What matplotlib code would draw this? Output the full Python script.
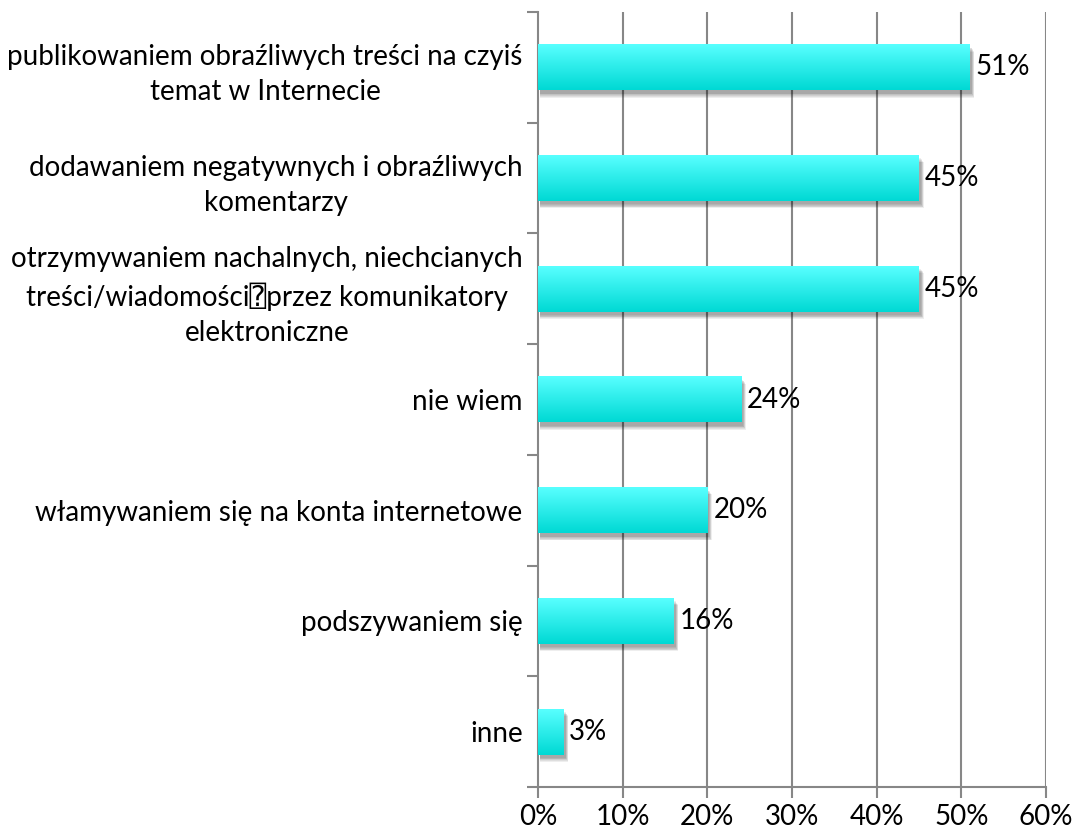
import numpy as np
import matplotlib.pyplot as plt
from matplotlib.patches import Rectangle
from matplotlib.ticker import FixedLocator, PercentFormatter

plt.rcParams['font.family'] = ['Lato', 'DejaVu Sans Mono', 'DejaVu Sans']

categories = [
    'publikowaniem obraźliwych treści na czyiś\ntemat w Internecie',
    'dodawaniem negatywnych i obraźliwych\nkomentarzy',
    'otrzymywaniem nachalnych, niechcianych\ntreści/wiadomości\u2370przez komunikatory\nelektroniczne',
    'nie wiem',
    'włamywaniem się na konta internetowe',
    'podszywaniem się',
    'inne',
]
values = [51, 45, 45, 24, 20, 16, 3]
xticks = [0, 10, 20, 30, 40, 50, 60]

grid_col = '#878787'
top_col = np.array([0x58, 0xff, 0xff]) / 255
bot_col = np.array([0x00, 0xd9, 0xd4]) / 255
fs = 20

fig = plt.figure(figsize=(10.72, 8.36), dpi=100)
ax = fig.add_axes([538 / 1072, 49 / 836, 508 / 1072, 775 / 836])

n = len(categories)
ypos = np.arange(n)[::-1]
h = 0.415

# vertical gradient used for every bar
t = np.linspace(0, 1, 64)[:, None]
grad = bot_col[None, None, :] * (1 - t[..., None]) + top_col[None, None, :] * t[..., None]

for y, v in zip(ypos, values):
    # soft shadow below / right of the bar
    for k in range(6):
        dx = 0.25 + k * 0.06
        dy = 0.03 + k * 0.007
        ax.add_patch(Rectangle((0.2, y - h / 2 - dy), v - 0.2 + dx, h,
                               color='black', alpha=0.065, lw=0, zorder=2))
    ax.imshow(grad, extent=[0, v, y - h / 2, y + h / 2], origin='lower',
              aspect='auto', interpolation='bilinear', zorder=3)
    ax.text(v + 0.7, y, f'{v}%', va='center', ha='left', fontsize=fs,
            color='black', zorder=4)

ax.set_xlim(0, 60)
ax.set_ylim(-0.5, n - 0.5)

for x in xticks[1:]:
    ax.axvline(x, color=grid_col, lw=1.5, zorder=1)

ax.xaxis.set_major_locator(FixedLocator(xticks))
ax.xaxis.set_major_formatter(PercentFormatter(decimals=0))
ax.tick_params(axis='x', length=8, width=1.5, color=grid_col, labelsize=fs, pad=4)

ax.set_yticks(ypos)
ax.set_yticklabels(categories, fontsize=fs, multialignment='center', linespacing=1.45)
ax.yaxis.set_minor_locator(FixedLocator(np.arange(-0.5, n, 1.0)))
ax.tick_params(axis='y', which='major', length=0, pad=11)
ax.tick_params(axis='y', which='minor', length=8, width=1.5, color=grid_col)

for s in ['top', 'right']:
    ax.spines[s].set_visible(False)
for s in ['left', 'bottom']:
    ax.spines[s].set_color(grid_col)
    ax.spines[s].set_linewidth(1.5)

fig.savefig('out.png', dpi=100)
